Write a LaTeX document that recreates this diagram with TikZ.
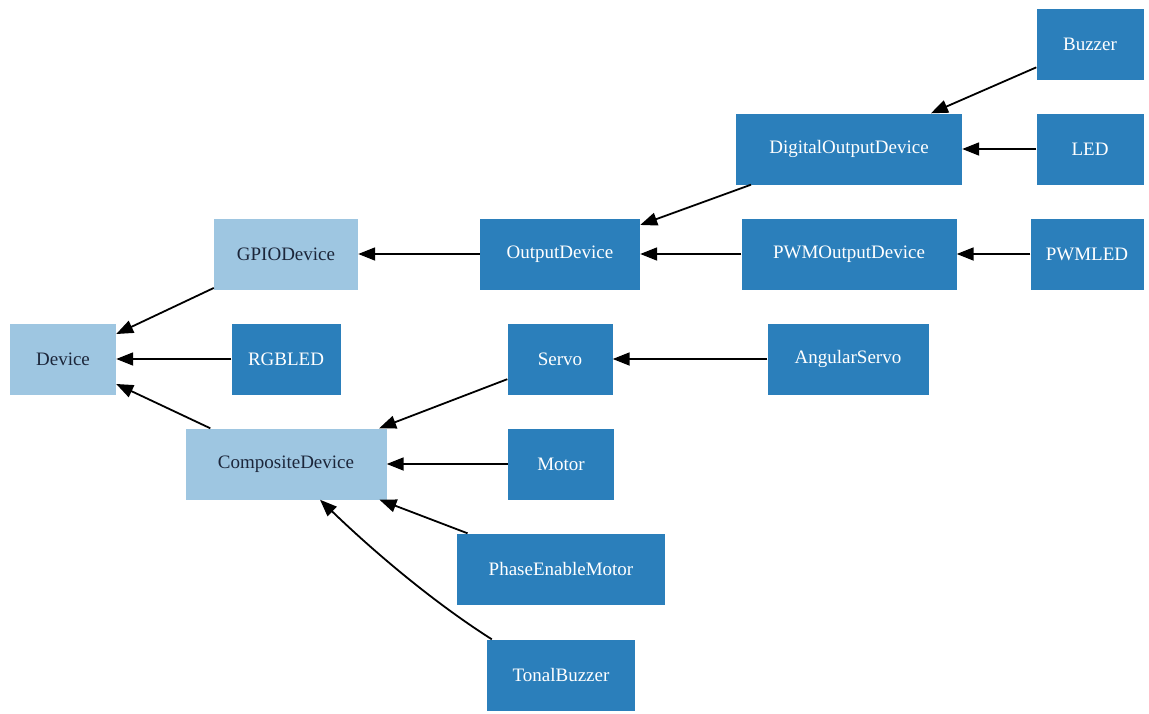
\documentclass[tikz,border=0pt]{standalone}
\usepackage{fontspec}
\setmainfont{Liberation Serif}
\usetikzlibrary{arrows.meta}
\definecolor{darkb}{RGB}{43,127,187}
\definecolor{lightb}{RGB}{158,198,225}
\definecolor{navy}{RGB}{28,38,58}
\begin{document}
\begin{tikzpicture}[x=1pt,y=-1pt,
  box/.style={rectangle,inner sep=0pt,minimum height=71pt,font=\fontsize{19}{22}\selectfont},
  dk/.style={box,fill=darkb,text=white},
  lt/.style={box,fill=lightb,text=navy},
  arr/.style={-{Triangle[length=17pt,width=13pt]},line width=1.8pt,black}]
\useasboundingbox[fill=white] (0,0) rectangle (1149,713);
\node[dk,minimum width=107pt] (buzzer) at (1090,44) {Buzzer};
\node[dk,minimum width=226pt] (dod) at (849,149) {DigitalOutputDevice};
\node[dk,minimum width=107pt] (led) at (1090,149) {LED};
\node[lt,minimum width=144pt] (gpio) at (286,254) {GPIODevice};
\node[dk,minimum width=160pt] (out) at (560,254) {OutputDevice};
\node[dk,minimum width=215pt] (pwmod) at (849,254) {PWMOutputDevice};
\node[dk,minimum width=113pt] (pwmled) at (1087,254) {PWMLED};
\node[lt,minimum width=106pt] (dev) at (63,359) {Device};
\node[dk,minimum width=109pt] (rgb) at (286,359) {RGBLED};
\node[dk,minimum width=105pt] (servo) at (560,359) {Servo};
\node[dk,minimum width=161pt] (ang) at (848,359) {AngularServo};
\node[lt,minimum width=201pt] (comp) at (286,464) {CompositeDevice};
\node[dk,minimum width=106pt] (motor) at (561,464) {Motor};
\node[dk,minimum width=208pt] (pem) at (561,569) {PhaseEnableMotor};
\node[dk,minimum width=148pt] (tonal) at (561,675) {TonalBuzzer};
\draw[arr] (buzzer) -- (dod);
\draw[arr] (led) -- (dod);
\draw[arr] (dod) -- (out);
\draw[arr] (pwmod) -- (out);
\draw[arr] (pwmled) -- (pwmod);
\draw[arr] (out) -- (gpio);
\draw[arr] (gpio) -- (dev);
\draw[arr] (rgb) -- (dev);
\draw[arr] (comp) -- (dev);
\draw[arr] (ang) -- (servo);
\draw[arr] (servo) -- (comp);
\draw[arr] (motor) -- (comp);
\draw[arr] (pem) -- (comp);
\draw[arr] ([xshift=5pt]tonal.north west) .. controls (430,600) and (370,548) .. ([xshift=34pt]comp.south);
\end{tikzpicture}
\end{document}
